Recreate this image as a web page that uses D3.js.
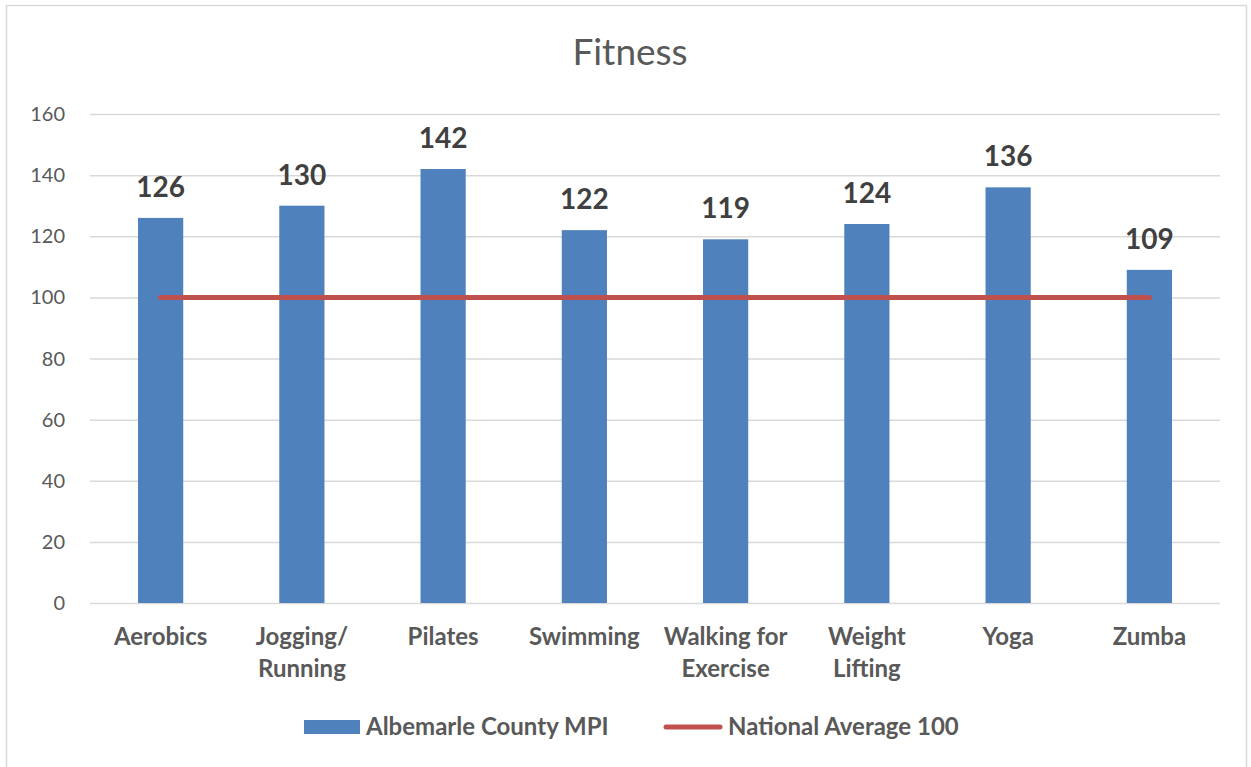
<!DOCTYPE html>
<html>
<head>
<meta charset="utf-8">
<script src="https://cdn.jsdelivr.net/npm/d3@7"></script>
<style>
  body { margin: 0; background: #fff; }
  svg { display: block; font-family: Lato, "Open Sans", sans-serif; }
</style>
</head>
<body>
<svg id="chart" width="1251" height="767"></svg>
<script>
// data
const categories = ["Aerobics", "Jogging/\nRunning", "Pilates", "Swimming", "Walking for\nExercise", "Weight\nLifting", "Yoga", "Zumba"];
const mpiValues = [126, 130, 142, 122, 119, 124, 136, 109];
const nationalAverage = [100, 100, 100, 100, 100, 100, 100, 100];
const yTicks = [0, 20, 40, 60, 80, 100, 120, 140, 160];
const seriesNames = ["Albemarle County MPI", "National Average 100"];

const svg = d3.select("#chart");
const margin = { left: 90, right: 31, top: 114, bottom: 164 };
const W = 1251, H = 767;

// outer chart border
svg.append("rect")
    .attr("x", 6.5).attr("y", 5.5)
    .attr("width", 1240).attr("height", 780)
    .attr("fill", "#fff")
    .attr("stroke", "#d9d9d9").attr("stroke-width", 1.5);

svg.append("text")
    .attr("x", 630).attr("y", 65)
    .attr("text-anchor", "middle")
    .attr("font-size", 37)
    .attr("fill", "#595959")
    .text("Fitness");

const x = d3.scaleBand()
    .domain(categories)
    .range([margin.left, W - margin.right])
    .paddingInner(0.68)
    .paddingOuter(0.34);

const y = d3.scaleLinear()
    .domain([0, 160])
    .range([H - margin.bottom, margin.top]);

// gridlines
svg.append("g")
    .selectAll("line")
    .data(yTicks)
    .join("line")
    .attr("x1", margin.left).attr("x2", W - margin.right)
    .attr("y1", d => y(d) + 0.5).attr("y2", d => y(d) + 0.5)
    .attr("stroke", "#d9d9d9").attr("stroke-width", 1.5);

// y tick labels
svg.append("g")
    .selectAll("text")
    .data(yTicks)
    .join("text")
    .attr("x", 65).attr("y", d => y(d))
    .attr("dy", "0.35em")
    .attr("text-anchor", "end")
    .attr("font-size", 20)
    .attr("fill", "#595959")
    .text(d => d);

// bars
svg.append("g")
    .selectAll("rect")
    .data(categories)
    .join("rect")
    .attr("x", d => x(d))
    .attr("width", x.bandwidth())
    .attr("y", (d, i) => y(mpiValues[i]))
    .attr("height", (d, i) => y(0) - y(mpiValues[i]))
    .attr("fill", "#4f81bd");

// value labels
svg.append("g")
    .selectAll("text")
    .data(categories)
    .join("text")
    .attr("x", d => x(d) + x.bandwidth() / 2)
    .attr("y", (d, i) => y(mpiValues[i]) - 21)
    .attr("text-anchor", "middle")
    .attr("font-size", 28)
    .attr("font-weight", "bold")
    .attr("fill", "#404040")
    .text((d, i) => mpiValues[i]);

// national average line
const line = d3.line()
    .x((d, i) => x(categories[i]) + x.bandwidth() / 2)
    .y(d => y(d));
svg.append("path")
    .datum(nationalAverage)
    .attr("d", line)
    .attr("fill", "none")
    .attr("stroke", "#c0504d")
    .attr("stroke-width", 5)
    .attr("stroke-linecap", "round");

// x labels
svg.append("g")
    .selectAll("text")
    .data(categories)
    .join("text")
    .attr("x", d => x(d) + x.bandwidth() / 2)
    .attr("y", 645)
    .attr("text-anchor", "middle")
    .attr("font-size", 24)
    .attr("font-weight", "bold")
    .attr("fill", "#595959")
    .each(function (d) {
        d.split("\n").forEach((part, k) => {
            d3.select(this).append("tspan")
                .attr("x", x(d) + x.bandwidth() / 2)
                .attr("dy", k === 0 ? 0 : 32)
                .text(part);
        });
    });

// legend
const leg = svg.append("g").attr("font-size", 24).attr("font-weight", "bold").attr("fill", "#595959");
leg.append("rect")
    .attr("x", 304).attr("y", 720).attr("width", 56).attr("height", 14)
    .attr("fill", "#4f81bd");
leg.append("text").attr("x", 366).attr("y", 727).attr("dy", "0.35em").text(seriesNames[0]);
leg.append("line")
    .attr("x1", 666).attr("x2", 720).attr("y1", 727).attr("y2", 727)
    .attr("stroke", "#c0504d").attr("stroke-width", 5).attr("stroke-linecap", "round");
leg.append("text").attr("x", 728).attr("y", 727).attr("dy", "0.35em").text(seriesNames[1]);
</script>
</body>
</html>
